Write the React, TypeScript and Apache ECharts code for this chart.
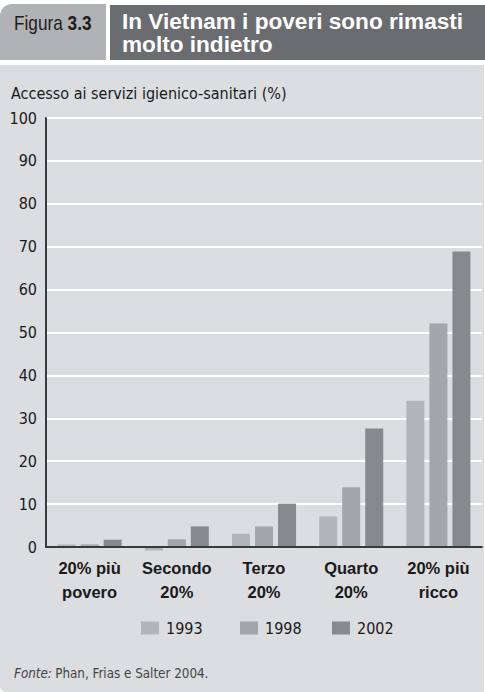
import React, { useEffect, useRef } from "react";
import * as echarts from "echarts";

const categories = ["20% più\npovero", "Secondo\n20%", "Terzo\n20%", "Quarto\n20%", "20% più\nricco"];
const seriesNames = ["1993", "1998", "2002"];
const values1993 = [0.6, -0.8, 3.1, 7.1, 34.1];
const values1998 = [0.6, 1.8, 4.8, 13.9, 52.1];
const values2002 = [1.7, 4.8, 10.1, 27.6, 68.9];
const yTicks = { min: 0, max: 100, interval: 10 };

const colors = ["#b3b4b7", "#a5a6a9", "#88898d"];
const COND = "'DejaVu Sans Condensed', 'Liberation Sans', sans-serif";
const WIDE = "'Liberation Sans', Arial, sans-serif";

export default function App() {
  const ref = useRef<HTMLDivElement>(null);
  useEffect(() => {
    document.body.style.margin = "0";
    const chart = echarts.init(ref.current!, null, { renderer: "svg" });
    const data = [values1993, values1998, values2002];
    const legendLefts = [141, 240, 332];
    chart.setOption({
      animation: false,
      backgroundColor: "#ffffff",
      grid: { left: 46, right: 3, top: 118, bottom: 145, containLabel: false },
      legend: seriesNames.map((n, i) => ({
        data: [n],
        left: legendLefts[i],
        top: 620,
        padding: 0,
        itemWidth: 18,
        itemHeight: 13,
        icon: "rect",
        selectedMode: false,
        textStyle: { fontFamily: COND, fontSize: 16, color: "#1a1a1a", padding: [0, 0, 0, 2] },
      })),
      xAxis: {
        type: "category",
        data: categories,
        z: 10,
        axisLine: { show: true, onZero: true, lineStyle: { color: "#3a3a3a", width: 2 } },
        axisTick: { show: false },
        axisLabel: {
          interval: 0,
          margin: 9,
          fontFamily: WIDE,
          fontWeight: "bold",
          fontSize: 16.5,
          lineHeight: 24,
          color: "#1a1a1a",
        },
      },
      yAxis: {
        type: "value",
        min: yTicks.min,
        max: yTicks.max,
        interval: yTicks.interval,
        axisLine: { show: true, lineStyle: { color: "#3a3a3a", width: 2 } },
        axisTick: { show: false },
        axisLabel: { margin: 9, fontFamily: COND, fontSize: 16, color: "#1a1a1a" },
        splitLine: { show: true, lineStyle: { color: "#ffffff", width: 2 } },
      },
      series: seriesNames.map((n, i) => ({
        name: n,
        type: "bar",
        data: data[i],
        clip: false,
        barWidth: 18,
        barGap: "28%",
        itemStyle: { color: colors[i] },
      })),
      graphic: [
        { type: "rect", z: -10, shape: { x: 0, y: 65, width: 484, height: 627, r: [0, 0, 0, 6] }, style: { fill: "#dcdde0" } },
        { type: "rect", z: -10, shape: { x: 0, y: 4, width: 106, height: 56, r: [12, 0, 0, 0] }, style: { fill: "#b1b2b5" } },
        { type: "rect", z: -10, shape: { x: 110, y: 5, width: 375, height: 55 }, style: { fill: "#6b6c70" } },
        {
          type: "text",
          x: 14,
          y: 12,
          scaleX: 0.82,
          style: {
            text: "{r|Figura }{b|3.3}",
            rich: {
              r: { fontFamily: WIDE, fontSize: 21, fill: "#1e1e1e" },
              b: { fontFamily: WIDE, fontSize: 21, fontWeight: "bold", fill: "#1e1e1e" },
            },
          },
        },
        {
          type: "text",
          left: 122,
          top: 10,
          style: {
            text: "In Vietnam i poveri sono rimasti\nmolto indietro",
            fontFamily: WIDE,
            fontWeight: "bold",
            fontSize: 22.6,
            lineHeight: 23,
            fill: "#ffffff",
          },
        },
        {
          type: "text",
          left: 11,
          top: 85,
          style: {
            text: "Accesso ai servizi igienico-sanitari (%)",
            fontFamily: COND,
            fontSize: 16,
            fill: "#1a1a1a",
          },
        },
        {
          type: "text",
          left: 14,
          top: 667,
          style: {
            text: "{i|Fonte:} {r|Phan, Frias e Salter 2004.}",
            rich: {
              i: { fontFamily: COND, fontSize: 13.3, fontStyle: "italic", fill: "#444444" },
              r: { fontFamily: COND, fontSize: 13.3, fill: "#444444" },
            },
          },
        },
      ],
    });
    return () => chart.dispose();
  }, []);
  return <div ref={ref} style={{ width: 485, height: 692, position: "absolute", left: 0, top: 0 }} />;
}
